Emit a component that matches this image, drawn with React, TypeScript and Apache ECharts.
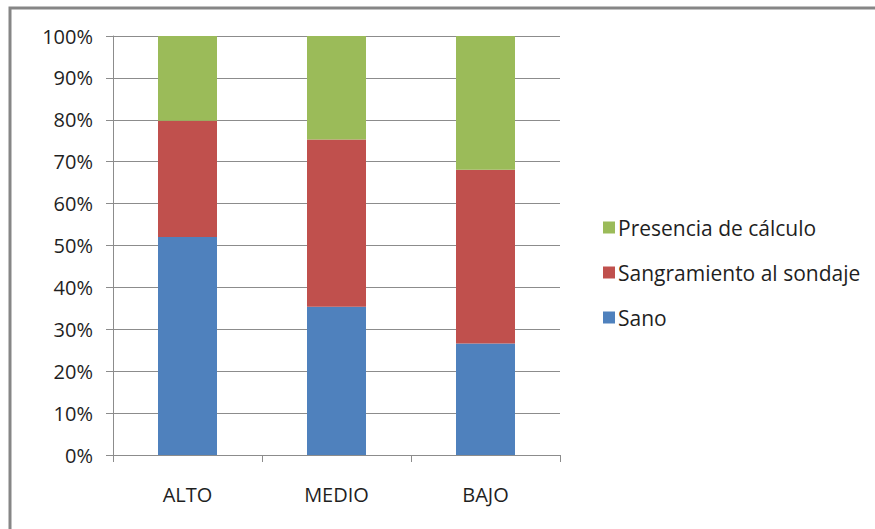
import React, { useEffect, useRef } from "react";
import * as echarts from "echarts";

// Nivel socioeconómico (categories)
const categories = ["ALTO", "MEDIO", "BAJO"];

// Percentage of each periodontal condition per group
const sano = [52, 35.4, 26.6];
const sangramiento = [27.8, 39.9, 41.5];
const calculo = [20.2, 24.7, 31.9];

const yTicks = { min: 0, max: 100, interval: 10 };

const FONT = "'Open Sans', sans-serif";
const TEXT = "#1f1f1f";
const GRID = "#8c8c8c";

export default function App() {
  const ref = useRef<HTMLDivElement>(null);

  useEffect(() => {
    if (!ref.current) return;
    const chart = echarts.init(ref.current, undefined, { renderer: "svg" });

    const barBase = {
      type: "bar" as const,
      stack: "total",
      barWidth: 59,
    };

    chart.setOption({
      animation: false,
      backgroundColor: "#ffffff",
      textStyle: { fontFamily: FONT },
      grid: { left: 113, top: 36, right: 315, bottom: 74 },
      graphic: [
        {
          type: "polyline",
          shape: { points: [[10, 600], [10, 8], [900, 8]] },
          style: { fill: "none", stroke: "#868686", lineWidth: 3 },
          silent: true,
        },
      ],
      legend: {
        orient: "vertical",
        left: 598,
        top: 212,
        itemWidth: 12,
        itemHeight: 12,
        itemGap: 24,
        icon: "rect",
        data: ["Presencia de cálculo", "Sangramiento al sondaje", "Sano"],
        textStyle: {
          fontFamily: FONT,
          fontSize: 21,
          color: TEXT,
          lineHeight: 21,
          padding: [0, 0, 0, -2],
        },
      },
      xAxis: {
        type: "category",
        data: categories,
        axisLine: { show: true, lineStyle: { color: GRID, width: 1 } },
        axisTick: {
          show: true,
          alignWithLabel: false,
          length: 7,
          lineStyle: { color: GRID },
        },
        axisLabel: {
          margin: 29,
          fontFamily: FONT,
          fontSize: 20,
          color: TEXT,
        },
        splitLine: { show: false },
      },
      yAxis: {
        type: "value",
        min: yTicks.min,
        max: yTicks.max,
        interval: yTicks.interval,
        axisLine: { show: true, lineStyle: { color: GRID, width: 1 } },
        axisTick: { show: true, length: 7, lineStyle: { color: GRID } },
        axisLabel: {
          formatter: "{value}%",
          margin: 20,
          fontFamily: FONT,
          fontSize: 20,
          color: TEXT,
        },
        splitLine: { show: true, lineStyle: { color: GRID, width: 1 } },
      },
      series: [
        { ...barBase, name: "Sano", data: sano, itemStyle: { color: "#4F81BD" } },
        {
          ...barBase,
          name: "Sangramiento al sondaje",
          data: sangramiento,
          itemStyle: { color: "#C0504D" },
        },
        {
          ...barBase,
          name: "Presencia de cálculo",
          data: calculo,
          itemStyle: { color: "#9BBB59" },
        },
      ],
    });

    return () => chart.dispose();
  }, []);

  return (
    <div
      ref={ref}
      style={{ position: "fixed", left: 0, top: 0, width: 875, height: 529 }}
    />
  );
}
